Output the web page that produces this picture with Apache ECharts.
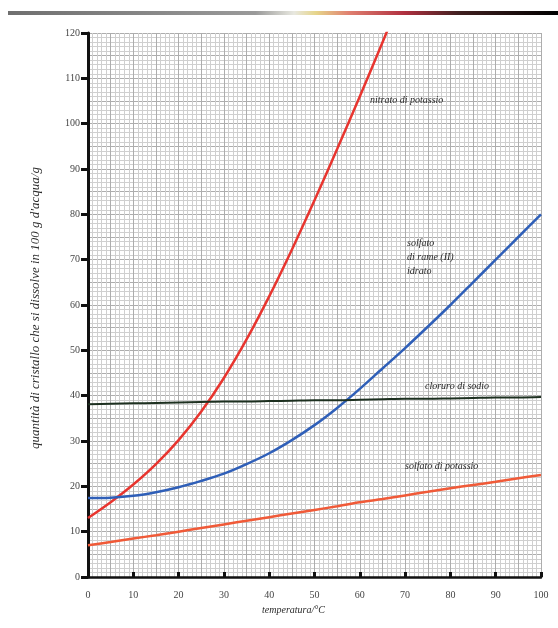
<!DOCTYPE html>
<html>
<head>
<meta charset="utf-8">
<script src="https://cdn.jsdelivr.net/npm/echarts@6/dist/echarts.min.js"></script>
<style>
  html, body { margin: 0; padding: 0; background: #fff; }
  #chart { width: 558px; height: 628px; }
</style>
</head>
<body>
<div id="chart"></div>
<script>
const temps = [0, 5, 10, 15, 20, 25, 30, 35, 40, 45, 50, 55, 60, 65, 70, 75, 80, 85, 90, 95, 100];

// grammi di sale in 100 g d'acqua
const nitratoPotassio = [13, 16.5, 20.4, 24.9, 30.2, 36.5, 43.9, 52.4, 61.9, 72.2, 83.1, 94.4, 106,
    117.9, 130.1, null, null, null, null, null, null];
const solfatoRame = [17.4, 17.5, 17.9, 18.7, 19.8, 21.2, 22.8, 24.9, 27.3, 30.2, 33.5, 37.3, 41.5,
    46, 50.5, 55.2, 60, 65, 70, 75, 80];
const cloruroSodio = [38.1, 38.2, 38.3, 38.4, 38.5, 38.6, 38.7, 38.7, 38.8, 38.9, 39, 39, 39.1,
    39.2, 39.3, 39.3, 39.4, 39.5, 39.6, 39.6, 39.7];
const solfatoPotassio = [7, 7.7, 8.5, 9.2, 10, 10.8, 11.6, 12.4, 13.2, 14, 14.8, 15.6, 16.5,
    17.2, 18, 18.8, 19.6, 20.3, 21, 21.8, 22.5];

const yTicks = [0, 10, 20, 30, 40, 50, 60, 70, 80, 90, 100, 110, 120];
const xTicks = [0, 10, 20, 30, 40, 50, 60, 70, 80, 90, 100];

const pairs = vals => temps.map((t, i) => [t, vals[i]]).filter(p => p[1] !== null);

const serif = '"Liberation Serif", "DejaVu Serif", serif';
const labelStyle = {fontFamily: serif, fontStyle: 'italic', fontSize: 10, fill: '#2a2a2a'};

const chart = echarts.init(document.getElementById('chart'));

const baseX = {
    type: 'value', min: 0, max: 100, interval: 10
};
const baseY = {
    type: 'value', min: 0, max: 120, interval: 10
};

const line = (name, data, color, width) => ({
    name, type: 'line', smooth: 0.3, symbol: 'none', z: 10,
    data: pairs(data), lineStyle: {color, width}
});

const option = {
    animation: false,
    backgroundColor: '#fff',
    grid: {left: 88, right: 17, top: 33, bottom: 51},
    xAxis: [
        {
            ...baseX,
            axisLine: {lineStyle: {color: '#111', width: 2.5}},
            axisTick: {inside: true, length: 5, lineStyle: {color: '#111', width: 3}},
            axisLabel: {
                margin: 13, fontFamily: serif, fontSize: 10, color: '#444',
                formatter: v => xTicks.includes(v) ? String(v) : ''
            },
            splitLine: {lineStyle: {color: '#7a7a7a', width: 1}},
            minorTick: {show: false, splitNumber: 10},
            minorSplitLine: {show: true, lineStyle: {color: '#cfcfcf', width: 1}}
        },
        {
            ...baseX, interval: 5, show: true,
            axisLine: {show: false}, axisTick: {show: false}, axisLabel: {show: false},
            splitLine: {lineStyle: {color: '#adadad', width: 1}}
        }
    ],
    yAxis: [
        {
            ...baseY,
            axisLine: {show: true, lineStyle: {color: '#111', width: 3}},
            axisTick: {show: true, length: 7, lineStyle: {color: '#111', width: 3}},
            axisLabel: {
                margin: 8, fontFamily: serif, fontSize: 10, color: '#444',
                formatter: v => yTicks.includes(v) ? String(v) : ''
            },
            splitLine: {lineStyle: {color: '#7a7a7a', width: 1}},
            minorTick: {show: false, splitNumber: 10},
            minorSplitLine: {show: true, lineStyle: {color: '#cfcfcf', width: 1}}
        },
        {
            ...baseY, interval: 5, show: true,
            axisLine: {show: false}, axisTick: {show: false}, axisLabel: {show: false},
            splitLine: {lineStyle: {color: '#adadad', width: 1}}
        }
    ],
    series: [
        line('nitrato di potassio', nitratoPotassio, '#e8352f', 2.5),
        line('solfato di rame (II) idrato', solfatoRame, '#2f5fb8', 2.5),
        line('cloruro di sodio', cloruroSodio, '#1d3020', 2),
        line('solfato di potassio', solfatoPotassio, '#f05a38', 2.5)
    ],
    graphic: [
        {
            type: 'rect', shape: {x: 8, y: 11, width: 550, height: 4},
            style: {
                fill: new echarts.graphic.LinearGradient(0, 0, 1, 0, [
                    {offset: 0, color: '#6f6f6f'},
                    {offset: 0.45, color: '#9a9a9a'},
                    {offset: 0.52, color: '#e8e8e0'},
                    {offset: 0.56, color: '#e6d58a'},
                    {offset: 0.62, color: '#e08070'},
                    {offset: 0.72, color: '#b03040'},
                    {offset: 0.82, color: '#402020'},
                    {offset: 1, color: '#000'}
                ])
            }
        },
        {type: 'text', left: 370, top: 95, z: 20, style: {...labelStyle, text: 'nitrato di potassio'}},
        {type: 'text', left: 407, top: 236, z: 20, style: {...labelStyle, text: 'solfato\ndi rame (II)\nidrato', lineHeight: 14}},
        {type: 'text', left: 425, top: 381, z: 20, style: {...labelStyle, text: 'cloruro di sodio'}},
        {type: 'text', left: 405, top: 461, z: 20, style: {...labelStyle, text: 'solfato di potassio'}},
        {type: 'text', left: 262, top: 605, style: {...labelStyle, text: 'temperatura/°C'}},
        {
            type: 'text', x: 36, y: 308, rotation: Math.PI / 2,
            style: {
                ...labelStyle, fontSize: 13,
                text: "quantità di cristallo che si dissolve in 100 g d'acqua/g",
                align: 'center', verticalAlign: 'middle'
            }
        }
    ]
};
chart.setOption(option);
window.addEventListener('resize', () => chart.resize());
</script>
</body>
</html>
